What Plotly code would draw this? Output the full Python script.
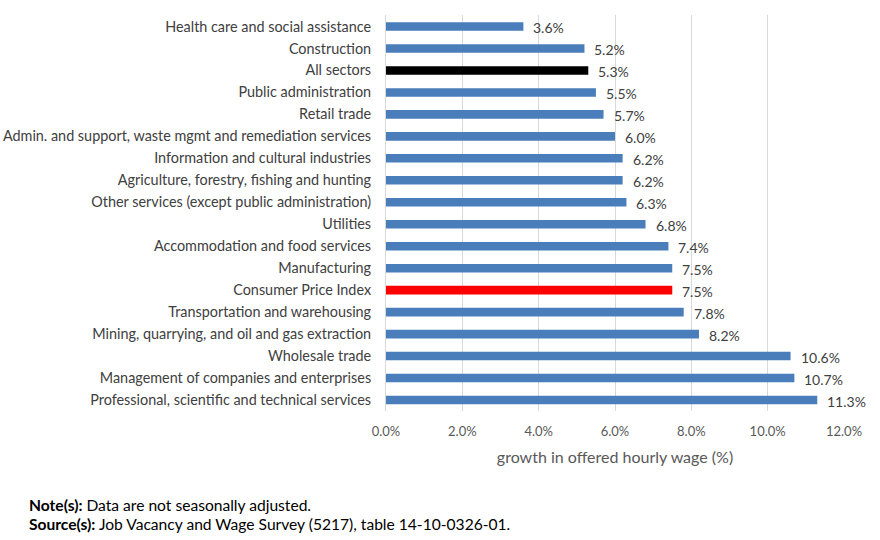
import plotly.graph_objects as go

categories = [
    "Health care and social assistance",
    "Construction",
    "All sectors",
    "Public administration",
    "Retail trade",
    "Admin. and support, waste mgmt and remediation services",
    "Information and cultural industries",
    "Agriculture, forestry, fishing and hunting",
    "Other services (except public administration)",
    "Utilities",
    "Accommodation and food services",
    "Manufacturing",
    "Consumer Price Index",
    "Transportation and warehousing",
    "Mining, quarrying, and oil and gas extraction",
    "Wholesale trade",
    "Management of companies and enterprises",
    "Professional, scientific and technical services",
]
values = [3.6, 5.2, 5.3, 5.5, 5.7, 6.0, 6.2, 6.2, 6.3, 6.8, 7.4, 7.5, 7.5, 7.8, 8.2, 10.6, 10.7, 11.3]
tick_vals = [0, 2, 4, 6, 8, 10, 12]
tick_text = ["0.0%", "2.0%", "4.0%", "6.0%", "8.0%", "10.0%", "12.0%"]

BLUE = "#4a7ebb"
colors = []
for c in categories:
    if c == "All sectors":
        colors.append("#000000")
    elif c == "Consumer Price Index":
        colors.append("#ff0000")
    else:
        colors.append(BLUE)

FONT = "Lato"

fig = go.Figure(go.Bar(
    x=values,
    y=categories,
    orientation="h",
    marker=dict(color=colors, line=dict(width=0)),
    width=0.39,
    hoverinfo="x+y",
))

label_annotations = [
    dict(x=v, y=c, xref="x", yref="y", text=f"{v:.1f}%", showarrow=False,
         xanchor="left", yanchor="middle", xshift=8, yshift=-1,
         font=dict(family=FONT, size=14, color="#404040"))
    for c, v in zip(categories, values)
]

PW = 880 - 386 - 36
PH = 540 - 15 - 129

fig.update_layout(
    width=880, height=540,
    margin=dict(l=386, r=36, t=15, b=129, autoexpand=False),
    plot_bgcolor="white", paper_bgcolor="white",
    showlegend=False,
    font=dict(family=FONT, size=14, color="#404040"),
    xaxis=dict(
        range=[0, 12],
        tickvals=tick_vals, ticktext=tick_text,
        showgrid=True, gridcolor="#d9d9d9", gridwidth=1,
        zeroline=False, showline=False, automargin=False,
        tickfont=dict(family=FONT, size=13, color="#595959"),
        title=dict(text="growth in offered hourly wage (%)",
                   font=dict(family=FONT, size=16, color="#595959"), standoff=13),
        ticks="", ticklabelstandoff=11,
    ),
    yaxis=dict(
        autorange="reversed", automargin=False,
        showgrid=False, showline=True, linecolor="#d9d9d9", linewidth=1,
        tickfont=dict(family=FONT, size=14.4, color="#404040"),
        ticks="", ticklabelstandoff=11,
    ),
    annotations=label_annotations + [
        dict(text="<b>Note(s):</b> Data are not seasonally adjusted.",
             xref="paper", yref="paper", x=(27 - 386) / PW, y=-94 / PH,
             xanchor="left", yanchor="middle", showarrow=False,
             font=dict(family=FONT, size=15.6, color="#000000")),
        dict(text="<b>Source(s):</b> Job Vacancy and Wage Survey (5217), table 14-10-0326-01.",
             xref="paper", yref="paper", x=(27 - 386) / PW, y=-113 / PH,
             xanchor="left", yanchor="middle", showarrow=False,
             font=dict(family=FONT, size=15.6, color="#000000")),
    ],
)

fig.write_html("out.html")
